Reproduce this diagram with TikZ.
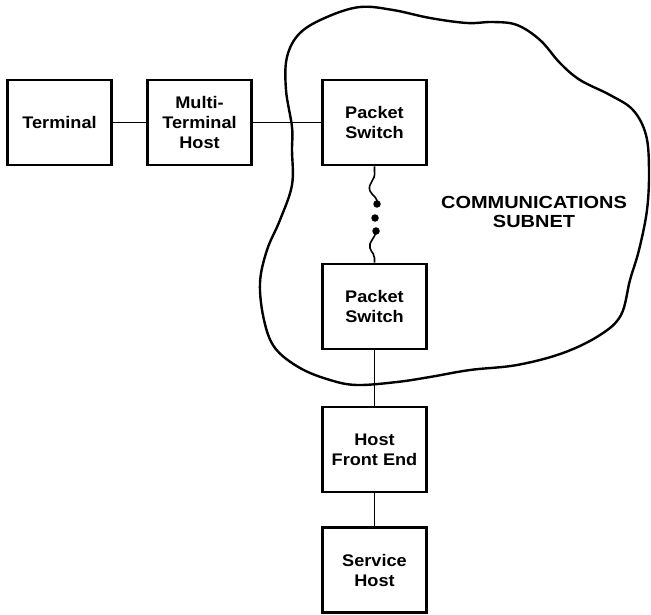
\documentclass[tikz,border=0pt]{standalone}
\usepackage{fontspec}
\newfontfamily\lab{Liberation Sans}[FakeStretch=1.08]
\newfontfamily\labw{Liberation Sans}[FakeStretch=1.14]
\begin{document}
\begin{tikzpicture}[x=1pt,y=-1pt,
  box/.style={draw, line width=2.8pt, minimum width=104pt, minimum height=85pt, inner sep=0pt, align=center,
     font=\lab\bfseries\fontsize{16.8}{20}\selectfont},
  link/.style={line width=1.6pt},
  blob/.style={fill, circle, inner sep=0pt, minimum size=7.5pt}]
\useasboundingbox (0,0) rectangle (651,615);
% cloud
\draw[line width=2.4pt, line join=round] plot[smooth cycle, tension=0.6] coordinates {
(292,127) (286,90) (287,57) (300,33) (327,17) (360,7) (393,10) (430,18) (467,23) (493,22) (517,25)
(540,40) (560,63) (580,80) (610,95) (633,110) (646,135) (649,170) (647,210) (639,250) (630,280)
(621,315) (600,335) (563,353) (517,365) (470,370) (430,377) (397,382) (357,385) (330,380) (300,368)
(275,348) (264,320) (260,283) (267,250) (280,220) (292,185) (292,150)};
% boxes
\node[box] (term) at (59.5,122.5) {Terminal};
\node[box] (mth) at (199.5,122.5) {Multi-\\Terminal\\Host};
\node[box] (ps1) at (374.5,122.5) {Packet\\Switch};
\node[box] (ps2) at (374.5,306.5) {Packet\\Switch};
\node[box] (hfe) at (374.5,449.5) {Host\\Front End};
\node[box] (sh) at (374.5,570) {Service\\Host};
\node[align=center, font=\labw\bfseries\fontsize{17.5}{18.5}\selectfont] (cs) at (534,212) {COMMUNICATIONS\\SUBNET};
% dots
\node[blob] (d1) at (377,204) {};
\node[blob] (d2) at (375,218) {};
\node[blob] (d3) at (376,231) {};
% connectors
\draw[link] (term) -- (mth);
\draw[link] (mth) -- (ps1);
\draw[link] (ps2) -- (hfe);
\draw[link] (hfe) -- (sh);
\draw[link] (ps1.south) -- (374.5,171) .. controls (376,181) and (367,183) .. (370,191)
   .. controls (373,197) and (378,197) .. (d1.center);
\draw[link] (d3.center) .. controls (375,239) and (368,242) .. (370,248)
   .. controls (372,254) and (375,254) .. (374.5,258) -- (ps2.north);
\end{tikzpicture}
\end{document}
